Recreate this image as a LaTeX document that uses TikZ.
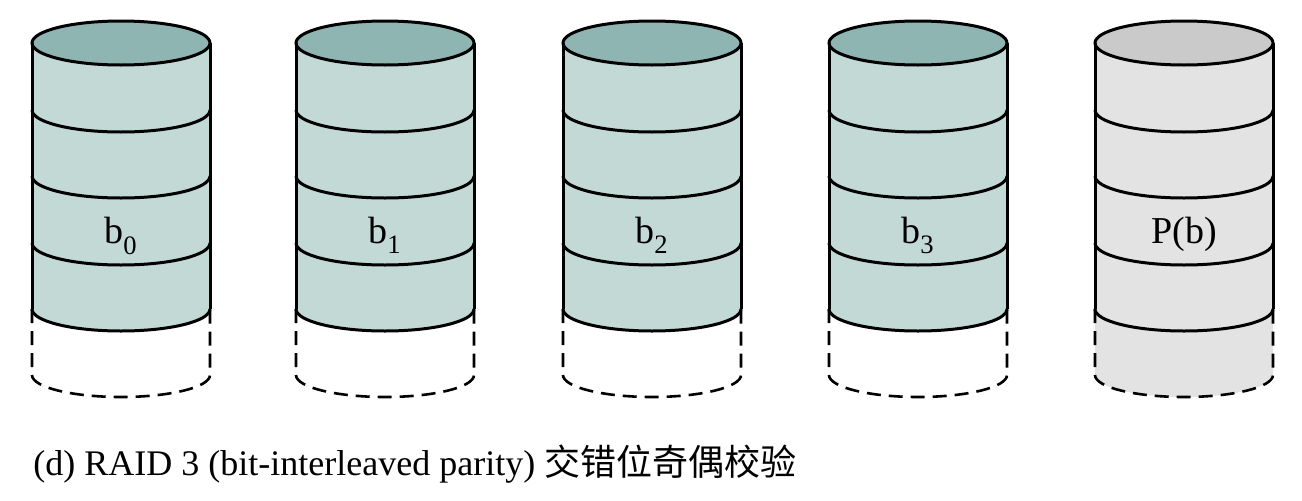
\documentclass[tikz,border=0pt]{standalone}
\usepackage{fontspec}
\setmainfont{Liberation Serif}
\newfontfamily\cjk{Noto Sans CJK SC}
\definecolor{tealtop}{HTML}{8FB5B3}
\definecolor{tealbody}{HTML}{C3D9D5}
\definecolor{graytop}{HTML}{CACACA}
\definecolor{graybody}{HTML}{E3E3E3}
\tikzset{
  outline/.style={line width=1.5pt, black},
  dashline/.style={line width=1.3pt, black, dash pattern=on 7pt off 4pt},
  lbl/.style={font=\fontsize{19}{21}\selectfont, inner sep=0pt},
}
\newcommand{\lowsub}[1]{\raisebox{-0.3ex}{\textsubscript{#1}}}
\begin{document}
\begin{tikzpicture}[x=0.5pt,y=0.5pt]
\useasboundingbox (0,0) rectangle (1302,500);
% data cylinders
\foreach \cx/\lab/\nm in {121/{b\lowsub{0}}/d0, 385/{b\lowsub{1}}/d1, 652/{b\lowsub{2}}/d2, 918/{b\lowsub{3}}/d3} {
  \fill[tealbody] (\cx-89,457) -- (\cx-89,191) arc (180:360:89 and 22) -- (\cx+89,457) -- cycle;
  \filldraw[outline, fill=tealtop] (\cx,457) ellipse [x radius=89, y radius=22];
  \foreach \yy in {390,324,257,191}
    \draw[outline] (\cx-89,\yy) arc (180:360:89 and 22);
  \draw[outline] (\cx-89,457) -- (\cx-89,191);
  \draw[outline] (\cx+89,457) -- (\cx+89,191);
  \draw[dashline] (\cx-89,191) -- (\cx-89,125) arc (180:360:89 and 22) -- (\cx+89,191);
  \node[lbl, anchor=base] (\nm) at (\cx,257) {\lab};
}
% parity cylinder
\fill[graybody] (1184-89,457) -- (1184-89,125) arc (180:360:89 and 22) -- (1184+89,457) -- cycle;
\filldraw[outline, fill=graytop] (1184,457) ellipse [x radius=89, y radius=22];
\foreach \yy in {390,324,257,191}
  \draw[outline] (1184-89,\yy) arc (180:360:89 and 22);
\draw[outline] (1184-89,457) -- (1184-89,191);
\draw[outline] (1184+89,457) -- (1184+89,191);
\draw[dashline] (1184-89,191) -- (1184-89,125) arc (180:360:89 and 22) -- (1184+89,191);
\node[lbl, anchor=base] (p) at (1184,257) {P(b)};
% caption
\node[anchor=base west, inner sep=0pt, font=\fontsize{18}{20}\selectfont] (cap) at (33,25) {(d) RAID 3 (bit-interleaved parity) {\cjk 交错位奇偶校验}};
\end{tikzpicture}
\end{document}
